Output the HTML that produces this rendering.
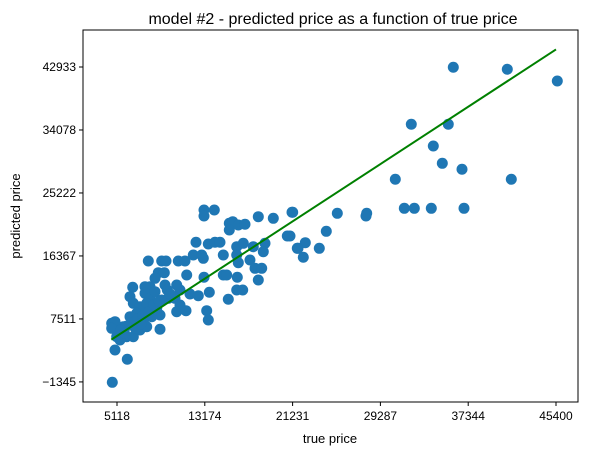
<!DOCTYPE html>
<html><head><meta charset="utf-8">
<style>
html,body{margin:0;padding:0;background:#fff;}
svg{display:block;font-family:"Liberation Sans","DejaVu Sans",sans-serif;}
</style></head>
<body>
<svg id="chart" width="592" height="455">
  <text x="333" y="24" text-anchor="middle" font-size="16" fill="#000">model #2 - predicted price as a function of true price</text>
  <g id="marks"></g>
  <rect x="83" y="30" width="495" height="372" fill="none" stroke="#000" stroke-width="1"/>
  <g id="xticks"></g>
  <g id="yticks"></g>
  <text x="330" y="443" text-anchor="middle" font-size="13">true price</text>
  <text transform="translate(20,216) rotate(-90)" text-anchor="middle" font-size="13">predicted price</text>
</svg>
<script>
const xTicks = [5118, 13174, 21231, 29287, 37344, 45400];
const yTicks = [-1345, 7511, 16367, 25222, 34078, 42933];
const trueX = [35977,40932,45520,32123,35518,34142,34968,36775,30655,41299,31481,32399,33958,36959,25333,28030,27966,21240,24323,22396,21727,23681,22213,20992,
13101,13101,14046,15423,15735,15423,16249,16863,18084,19460,21176,20745,21662,
12367,13496,14110,14569,16102,16707,17625,18698,18543,14872,16102,17322,17781,18396,18084,16249,7990,9220,9614,10743,11358,12119,12890,13037,
8908,9458,8605,11514,13101,14872,15184,16157,8146,6559,7687,9522,10596,9734,10899,11816,12578,13588,15331,16102,16652,
6311,7687,8146,8605,9220,9825,10440,10899,6614,7228,7843,8761,10596,11449,13349,13496,9064,8302,6926,6311,7531,6614,5696,4632,4934,4632,5090,6008,6614,7228,9064,7843,6926,8302,4934,6063,4687,5393,
6500,7000,7500,8000,8500,6000,5500,9000,10000,5800,6800,7300];
const predY = [42891,42610,40965,34877,34877,31826,29393,28550,27144,27144,23066,23066,23066,23066,22363,22363,21984,22504,19832,18230,17442,17442,16177,19172,
22827,21984,22827,20957,21182,20015,20718,20817,21885,21660,22504,19172,17442,
18286,18047,18286,18286,17667,18145,17667,18145,16964,16500,16500,15797,14630,14630,12985,15418,15657,15657,15657,15657,15657,16500,16500,16036,
14012,14012,13224,13688,13365,13688,13688,13365,12043,11959,12043,12282,12282,11579,11579,11017,10778,11256,10272,11579,11579,
10637,11115,10412,11340,10173,10412,10412,9470,9709,9231,9709,9006,8528,8669,8669,7361,8064,7825,8303,7825,7122,6897,6419,6897,7122,6194,5013,5013,5013,5955,6054,6419,7361,8528,3143,1836,-1398,4549,
7000,7500,8000,8500,9500,6500,6000,10000,11000,5500,6200,6800];
const fitLine = [4600, 45400];

const xMin = 1998, xMax = 47419, yMin = -4168, yMax = 48135;
const L = 83, R = 578, T = 30, B = 402;
const sx = v => L + (v - xMin) / (xMax - xMin) * (R - L);
const sy = v => B - (v - yMin) / (yMax - yMin) * (B - T);
const NS = "http://www.w3.org/2000/svg";
const marks = document.getElementById('marks');

trueX.forEach((x, i) => {
  const c = document.createElementNS(NS, 'circle');
  c.setAttribute('cx', sx(x));
  c.setAttribute('cy', sy(predY[i]));
  c.setAttribute('r', 5.5);
  c.setAttribute('fill', '#1f77b4');
  
  
  marks.appendChild(c);
});

const ln = document.createElementNS(NS, 'line');
ln.setAttribute('x1', sx(fitLine[0])); ln.setAttribute('y1', sy(fitLine[0]));
ln.setAttribute('x2', sx(fitLine[1])); ln.setAttribute('y2', sy(fitLine[1]));
ln.setAttribute('stroke', '#008000'); ln.setAttribute('stroke-width', 2);


marks.appendChild(ln);

const xg = document.getElementById('xticks');
xTicks.forEach(v => {
  const t = document.createElementNS(NS, 'line');
  t.setAttribute('x1', sx(v)); t.setAttribute('x2', sx(v));
  t.setAttribute('y1', B); t.setAttribute('y2', B + 4);
  t.setAttribute('stroke', '#000');
  
  
  xg.appendChild(t);
  const tx = document.createElementNS(NS, 'text');
  tx.setAttribute('x', sx(v)); tx.setAttribute('y', B + 18);
  tx.setAttribute('text-anchor', 'middle'); tx.setAttribute('font-size', '12');
  tx.textContent = v;
  
  
  xg.appendChild(tx);
});
const yg = document.getElementById('yticks');
yTicks.forEach(v => {
  const t = document.createElementNS(NS, 'line');
  t.setAttribute('x1', L - 4); t.setAttribute('x2', L);
  t.setAttribute('y1', sy(v)); t.setAttribute('y2', sy(v));
  t.setAttribute('stroke', '#000');
  
  
  yg.appendChild(t);
  const tx = document.createElementNS(NS, 'text');
  tx.setAttribute('x', L - 7); tx.setAttribute('y', sy(v) + 4);
  tx.setAttribute('text-anchor', 'end'); tx.setAttribute('font-size', '12');
  tx.textContent = v < 0 ? '\u2212' + Math.abs(v) : v;
  
  
  yg.appendChild(tx);
});
</script>
</body></html>
